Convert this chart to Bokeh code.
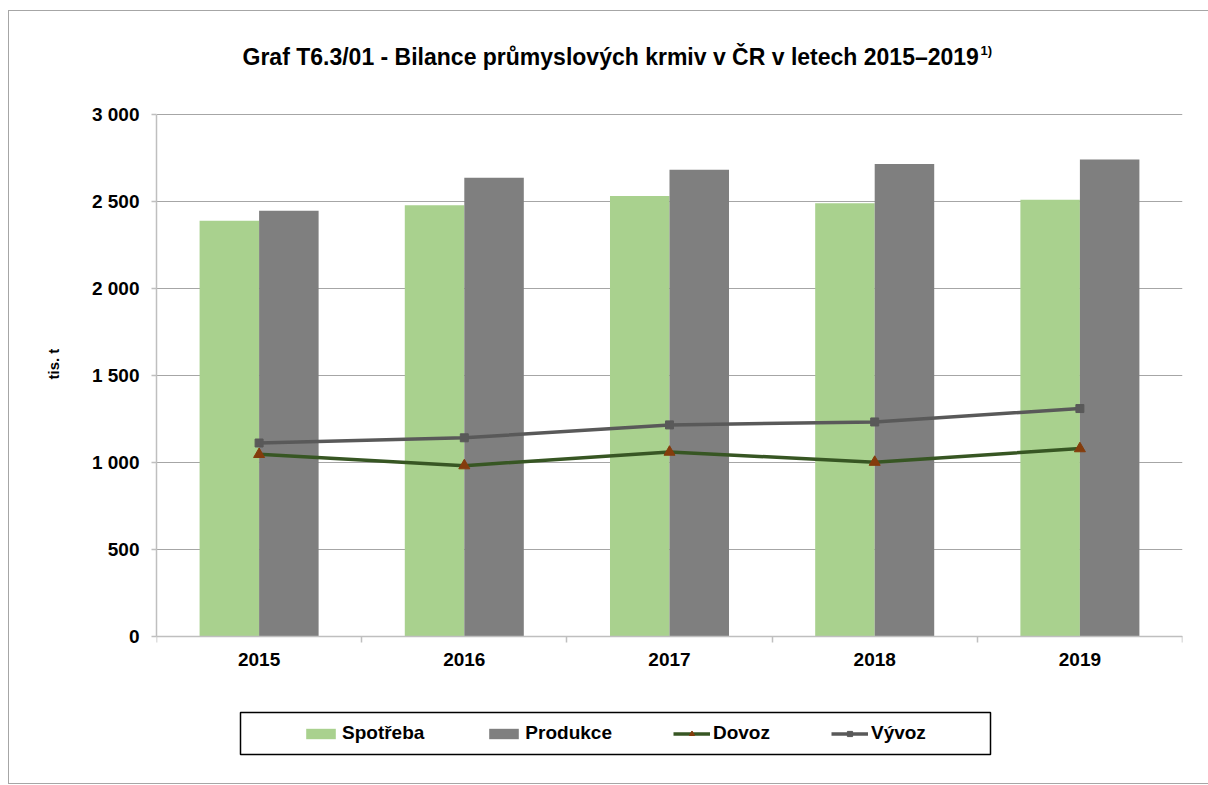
from bokeh.plotting import figure
from bokeh.models import (Range1d, FixedTicker, Legend, LegendItem, Label, Title,
                          BoxAnnotation, ColumnDataSource, InlineStyleSheet)
from bokeh.transform import dodge
from bokeh.embed import file_html
from bokeh.resources import INLINE

# ---- data ----
years = ["2015", "2016", "2017", "2018", "2019"]
spotreba = [2390, 2478, 2532, 2490, 2510]
produkce = [2447, 2637, 2682, 2716, 2742]
dovoz = [1047, 982, 1060, 1002, 1080]
vyvoz = [1112, 1142, 1216, 1233, 1310]
y_ticks = [0, 500, 1000, 1500, 2000, 2500, 3000]

title_text = "Graf T6.3/01 - Bilance průmyslových krmiv v ČR v letech 2015–2019"
title_note = "1)"
y_label = "tis. t"

FONT = "Liberation Sans"

# ---- layout constants (pixels) ----
W, H = 1208, 785
FRAME_L, FRAME_R, FRAME_T, FRAME_B = 156, 1182, 30, 785
PLOT_TOP_PX, PLOT_ZERO_PX = 114, 636          # where 3000 and 0 sit
u_per_px = (y_ticks[-1] - y_ticks[0]) / (PLOT_ZERO_PX - PLOT_TOP_PX)
x_per_px = len(years) / (FRAME_R - FRAME_L)
def ypx(py):  # pixel row -> data y
    return (PLOT_ZERO_PX - py) * u_per_px
def xpx(px):  # pixel column -> data x
    return (px - FRAME_L) * x_per_px

xs = [i + 0.5 for i in range(len(years))]
src = ColumnDataSource(dict(x=xs, spotreba=spotreba, produkce=produkce,
                            dovoz=dovoz, vyvoz=vyvoz))

p = figure(width=W, height=H, x_range=Range1d(0, len(years)),
           y_range=Range1d(ypx(FRAME_B), ypx(FRAME_T)), output_backend="svg",
           toolbar_location=None, min_border_left=FRAME_L,
           min_border_right=W - FRAME_R, min_border_top=FRAME_T,
           min_border_bottom=0)
p.outline_line_color = None
p.background_fill_color = "white"
p.border_fill_color = "white"

# outer chart-area frame (decorative)
p.stylesheets = [InlineStyleSheet(css=""":host::after {
  content: ""; position: absolute; left: 8px; top: 10px;
  width: 1230px; height: 774px; box-sizing: border-box;
  border: 1.5px solid #a6a6a6; pointer-events: none;
}""")]

# grid
p.xgrid.visible = False
p.ygrid.grid_line_color = "#a6a6a6"
p.ygrid.grid_line_width = 1
p.ygrid.ticker = FixedTicker(ticks=y_ticks)

# x axis, pinned at y = 0
xa = p.xaxis[0]
xa.fixed_location = 0
xa.ticker = FixedTicker(ticks=xs, minor_ticks=list(range(len(years) + 1)))
xa.major_label_overrides = {x: y for x, y in zip(xs, years)}
xa.major_tick_out = 0
xa.major_tick_in = 0
xa.minor_tick_out = 6
xa.minor_tick_in = 0
xa.minor_tick_line_color = "#bfbfbf"
xa.minor_tick_line_width = 1.5
xa.axis_line_color = "#bfbfbf"
xa.axis_line_width = 1.5
xa.major_label_text_font = FONT
xa.major_label_text_font_style = "bold"
xa.major_label_text_font_size = "19px"
xa.major_label_text_color = "black"
xa.major_label_standoff = 10

# y axis
ya = p.yaxis[0]
ya.bounds = (y_ticks[0], y_ticks[-1])
ya.ticker = FixedTicker(ticks=y_ticks)
ya.major_label_overrides = {v: f"{v:,}".replace(",", " ") for v in y_ticks}
ya.major_tick_out = 5
ya.major_tick_in = 0
ya.minor_tick_out = 0
ya.minor_tick_in = 0
ya.major_tick_line_color = "#bfbfbf"
ya.major_tick_line_width = 1.5
ya.axis_line_color = "#bfbfbf"
ya.axis_line_width = 1.5
ya.major_label_text_font = FONT
ya.major_label_text_font_style = "bold"
ya.major_label_text_font_size = "19px"
ya.major_label_text_color = "black"
ya.major_label_standoff = 12

# y axis title (side panel, vertical)
p.add_layout(Title(text=y_label, align="left", offset=FRAME_B - 379,
                   standoff=53, text_font=FONT, text_font_style="bold",
                   text_font_size="15px", text_color="black"), "left")

# bars
r_sp = p.vbar(x=dodge("x", -0.145, range=p.x_range), top="spotreba", width=0.29,
              source=src, fill_color="#a9d18e", line_color=None)
r_pr = p.vbar(x=dodge("x", 0.145, range=p.x_range), top="produkce", width=0.29,
              source=src, fill_color="#7f7f7f", line_color=None)

# lines
r_dl = p.line("x", "dovoz", source=src, line_color="#375623", line_width=3.5)
r_dm = p.scatter("x", "dovoz", source=src, marker="triangle", size=11,
                 fill_color="#843c0c", line_color="#843c0c")
r_vl = p.line("x", "vyvoz", source=src, line_color="#595959", line_width=3.5)
r_vm = p.scatter("x", "vyvoz", source=src, marker="square", size=8,
                 fill_color="#595959", line_color="#595959")

# title and its note
p.add_layout(Label(x=xpx(242), y=ypx(56), text=title_text, text_font=FONT,
                   text_font_style="bold", text_font_size="23px",
                   text_color="black", text_align="left",
                   text_baseline="alphabetic"))
p.add_layout(Label(x=xpx(980), y=ypx(50), text=title_note, text_font=FONT,
                   text_font_style="bold", text_font_size="13px",
                   text_color="black", text_align="left",
                   text_baseline="alphabetic"))

# legend box
p.add_layout(BoxAnnotation(left=xpx(240), right=xpx(990), top=ypx(712),
                           bottom=ypx(754), fill_alpha=0, line_color="black",
                           line_alpha=1, line_width=1.5))

# legend
legend = Legend(items=[
    LegendItem(label="Spotřeba", renderers=[r_sp]),
    LegendItem(label="Produkce", renderers=[r_pr]),
    LegendItem(label="Dovoz", renderers=[r_dl, r_dm]),
    LegendItem(label="Vývoz", renderers=[r_vl, r_vm]),
], orientation="horizontal", location=(302 - FRAME_L, FRAME_B - 744))
legend.label_text_font = FONT
legend.label_text_font_style = "bold"
legend.label_text_font_size = "19px"
legend.label_text_color = "black"
legend.glyph_width = 37
legend.glyph_height = 13
legend.label_standoff = 3
legend.spacing = 61
legend.padding = 10
legend.margin = 0
legend.border_line_color = None
legend.background_fill_alpha = 0
p.add_layout(legend)

open("out.html", "w").write(file_html(p, INLINE))
